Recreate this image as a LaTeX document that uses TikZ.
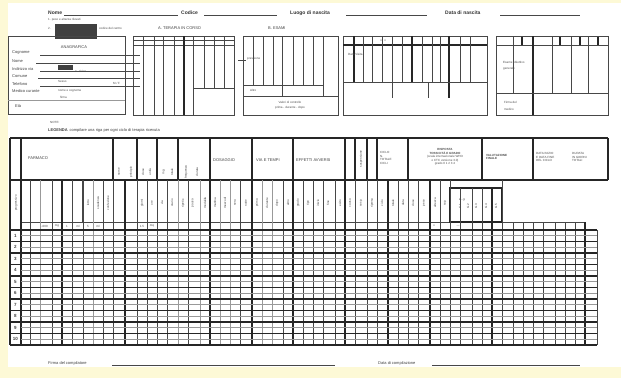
\documentclass[tikz,border=0pt]{standalone}
\usepackage{fontspec}
\setmainfont{Liberation Sans}
\usepackage{tikz}

\definecolor{paperyellow}{RGB}{253,249,214}
\tikzset{
  ln/.style={draw=black!72, line width=0.7pt},
  thk/.style={draw=black!85, line width=1.1pt},
  fnt/.style={draw=black!40, line width=0.55pt},
  lbl/.style={inner sep=0pt, font=\fontsize{5}{6}\selectfont\bfseries, text=black!80},
  sml/.style={inner sep=0pt, font=\fontsize{4}{4.6}\selectfont, text=black!75},
  tny/.style={inner sep=0pt, font=\fontsize{3}{3.5}\selectfont, text=black!70},
  rot/.style={inner sep=0pt, font=\fontsize{3}{3.5}\selectfont, text=black!75, rotate=90},
  blob/.style={fill=black!75},
}

\begin{document}
\begin{tikzpicture}[x=1pt, y=-1pt]
  % paper
  \fill[paperyellow] (0,0) rectangle (621,378);
  \fill[white] (8,3) rectangle (621,367);
  \useasboundingbox (0,0) rectangle (621,378);

  % top line of the form
  \node[lbl,anchor=west] (hnome) at (48,13) {Nome};
  \draw[ln] (64,15) -- (178,15);
  \node[lbl,anchor=west] (hcod) at (181,13) {Codice};
  \draw[ln] (204,15) -- (277,15);
  \node[lbl,anchor=west] (hluogo) at (290,13) {Luogo di nascita};
  \draw[ln] (346,15) -- (427,15);
  \node[lbl,anchor=west] (hdata) at (445,13) {Data di nascita};
  \draw[ln] (500,15) -- (580,15);

  \node[tny,anchor=west] (sub1) at (48,20) {1. peso e altezza rilevati};
  \node[tny,anchor=west] (sub2) at (48,28) {2.};
  \fill[blob] (55,24) rectangle (97,39);
  \node[tny,anchor=west] (sub3) at (99,28) {codice del centro};
  \node[sml,anchor=west] (tA) at (158,28) {A. TERAPIA IN CORSO};
  \node[sml,anchor=west] (tB) at (268,28) {B. ESAMI};

  % box 1: dati anagrafici
  \draw[ln] (8,36) rectangle (125,114);
  \node[sml] (ana) at (74,47) {ANAGRAFICA};
  \node[sml,anchor=west] (a1) at (12,53) {Cognome};
  \draw[ln] (40,55) -- (140,55);
  \node[sml,anchor=west] (a2) at (12,61) {Nome};
  \draw[ln] (36,63) -- (140,63);
  \node[sml,anchor=west] (a3) at (12,69) {Indirizzo via};
  \fill[blob] (58,65) rectangle (73,70);
  \node[tny,anchor=west] (a3b) at (75,71) {n. civico};
  \draw[ln] (40,71) -- (140,71);
  \node[sml,anchor=west] (a4) at (12,76) {Comune};
  \draw[ln] (38,78) -- (140,78);
  \node[tny,anchor=west] (a5a) at (58,81) {Sesso};
  \node[tny,anchor=west] (a5b) at (113,83) {M / F};
  \node[sml,anchor=west] (a5) at (12,84) {Telefono};
  \draw[ln] (40,86) -- (140,86);
  \node[sml,anchor=west] (a6) at (12,91) {Medico curante};
  \node[tny,anchor=west] (a6b) at (58,91) {nome e cognome};
  \node[tny,anchor=west] (a6c) at (60,97) {firma};
  \draw[fnt] (8,100) -- (125,100);
  \node[sml,anchor=west] (a7) at (15,106) {Età};

  % box A
  \draw[ln] (133,36) rectangle (234,115);
  \draw[ln] (133,40) -- (234,40);
  \draw[ln] (133,45) -- (234,45);
  \foreach \x in {143,154,163,174,193}
    \draw[ln] (\x,36) -- (\x,115);
  \draw[thk] (184,36) -- (184,115);
  \foreach \x in {204,214,224}
    \draw[ln] (\x,36) -- (\x,88);
  \draw[ln] (193,88) -- (234,88);

  % box B
  \draw[ln] (243,36) rectangle (338,115);
  \foreach \x in {253,263,273,293,303,313}
    \draw[ln] (\x,36) -- (\x,85);
  \foreach \x in {282,323}
    \draw[ln] (\x,36) -- (\x,96);
  \draw[ln] (243,85) -- (323,85);
  \draw[ln] (243,96) -- (338,96);
  \draw[ln] (238,60) -- (246,60);
  \node[tny,anchor=west] (b1) at (247,59) {pressione};
  \node[tny,anchor=west] (b2) at (250,90) {Altro};
  \node[tny] (b3) at (290,102) {Valori di controllo};
  \node[tny] (b4) at (290,108) {prima - durante - dopo};

  % box C
  \draw[ln] (343,36) rectangle (487,115);
  \draw[thk] (343,45) -- (487,45);
  \foreach \x in {363,372,382,392,402,422,432,440,460,470}
    \draw[ln] (\x,36) -- (\x,82);
  \foreach \x in {354,412}
    \draw[thk] (\x,36) -- (\x,82);
  \draw[thk] (449,36) -- (449,98);
  \draw[ln] (343,82) -- (487,82);
  \foreach \x in {392,428}
    \draw[ln] (\x,82) -- (\x,98);
  \node[tny] (c0) at (383,41) {x \; x};
  \node[tny,anchor=west] (c1) at (348,54) {Data Visita};

  % box D
  \draw[ln] (496,36) rectangle (608,115);
  \draw[ln] (496,45) -- (608,45);
  \foreach \x in {513,552,571,588}
    \draw[ln] (\x,36) -- (\x,93);
  \foreach \x in {522,560,580,598}
    \draw[thk] (\x,37) -- (\x,45);
  \draw[thk] (533,36) -- (533,115);
  \draw[ln] (496,93) -- (608,93);
  \node[tny,anchor=west] (d1) at (503,62) {Esame obiettivo};
  \node[tny,anchor=west] (d2) at (503,69) {generale};
  \node[tny,anchor=west] (d3) at (504,102) {Firma del};
  \node[tny,anchor=west] (d4) at (504,109) {medico};

  % note
  \node[tny,anchor=west] (n1) at (50,122) {NOTE:};
  \node[sml,anchor=west] (n2) at (48,130) {\textbf{LEGENDA}\, compilare una riga per ogni ciclo di terapia ricevuta};

  % main table: header
  \draw[thk] (10,138) -- (608,138);
  \draw[thk] (10,180) -- (608,180);
  \draw[thk] (608,138) -- (608,180);
  \draw[thk] (10,138) -- (10,345);
  \foreach \x in {21,113,137,157,178,210,252,293,345,355,367,377,408,482,533}
    \draw[thk] (\x,138) -- (\x,180);
  \node[sml,anchor=west] (g1) at (28,158) {FARMACO};
  \node[sml,anchor=west] (g2) at (213,160) {DOSAGGIO};
  \node[sml,anchor=west] (g3) at (256,160) {VIA E TEMPI};
  \node[sml,anchor=west] (g4) at (296,160) {EFFETTI AVVERSI};
  \node[rot] (g5) at (361,159) {sospensione};
  \node[tny,anchor=west,align=left] (g6) at (380,158) {CICLO\\N.\\TOTALE\\CICLI};
  \node[tny,align=center] (g7) at (445,157) {\textbf{RISPOSTA}\\\textbf{TOSSICITÀ E GRADO}\\(scala internazionale WHO\\ o CTC versione 3.0)\\grado 0 1 2 3 4};
  \node[tny,anchor=west,align=left] (g8) at (486,157) {\textbf{VALUTAZIONE}\\\textbf{FINALE}};
  \node[tny,anchor=west,align=left] (g9) at (536,157) {DATA INIZIO\\E DATA FINE\\DEL CICLO};
  \node[tny,anchor=west,align=left] (g10) at (572,157) {DURATA\\IN GIORNI\\TOTALI};
  \foreach \x/\t in {119/nome,131/principio,143/dose,150/unità,164/mg/mq,172/totale,186/frequenza,197/durata}
    \node[rot] at (\x,172) {\t};

  % main table: second header band
  \draw[ln] (30,180) -- (30,222);
  \draw[ln] (82,180) -- (82,222);
  \draw[ln] (21,222) -- (585,222);
  \foreach \x/\t in {16/progressivo,88/lotto,98/scadenza,108/confezione,142/giorni,152/ore,162/via,172/orario,183/ripetiz.,193/pausa,205/modalità,215/mattina,225/mezzodì,235/sera,246/notte,257/prima,267/durante,277/dopo,288/altro,298/grado,308/tipo,318/inizio,328/fine,340/esito,350/causa,361/sosp.,372/ripresa,382/ciclo,393/totale,403/data,413/dose,424/peso,435/altezza,445/sup.}
    \node[rot] at (\x,203) {\t};
  \foreach \x/\t in {460/G1,468/G2,476/G3,486/G4,496/G5}
    \node[rot] at (\x,206) {\t};
  \draw[thk] (450,188) rectangle (502,222);
  \node[tny] (grd) at (462,200) {\textbf{x - y}};

  % small code row
  \foreach \x/\t in {44/1.000,57/mg,67/1,78/ml,88/5,98/ml,142/1.5,152/mq,434/x,458/---}
    \node[tny] at (\x,226) {\t};

  % main table: body columns
  \foreach \x/\s in {21/thk,30/ln,40/fnt,52/ln,62/thk,72/ln,83/ln,93/fnt,103/ln,
                     113/ln,125/thk,137/ln,147/ln,157/ln,167/ln,178/fnt,188/ln,200/fnt,
                     210/thk,220/fnt,230/fnt,240/ln,252/thk,262/fnt,272/fnt,283/ln,
                     293/thk,303/ln,313/ln,323/ln,335/ln,345/thk,355/ln,367/ln,377/ln,
                     388/thk,398/ln,408/ln,418/ln,430/thk,440/ln,450/ln}
    \draw[\s] (\x,180) -- (\x,345);
  \foreach \x/\s in {460/ln,472/ln,482/ln,492/thk}
    \draw[\s] (\x,188) -- (\x,345);
  \draw[ln] (502,180) -- (502,345);
  \foreach \x/\s in {513/ln,523/ln,533/ln,543/ln,555/ln,565/ln,575/ln,585/thk}
    \draw[\s] (\x,222) -- (\x,345);
  \draw[ln] (597,230) -- (597,345);

  % main table: rows
  \foreach \i in {0,...,10} {
    \pgfmathsetmacro{\yy}{230+11.5*\i}
    \draw[thk] (10,\yy) -- (597,\yy);
  }
  \draw[draw=black!85, line width=1.5pt] (10,310.5) -- (597,310.5);
  \foreach \i in {0,...,9} {
    \pgfmathsetmacro{\ym}{235.75+11.5*\i}
    \draw[fnt] (21,\ym) -- (597,\ym);
  }
  \foreach \n in {1,...,10}
    \node[sml,font=\fontsize{4.5}{5}\selectfont\bfseries] at (15.5,224.25+11.5*\n) {\n};

  % footer
  \node[sml,anchor=west] (f1) at (48,363) {Firma del compilatore};
  \draw[ln] (112,365) -- (335,365);
  \node[sml,anchor=west] (f2) at (378,363) {Data di compilazione};
  \draw[ln] (432,365) -- (580,365);
\end{tikzpicture}
\end{document}
